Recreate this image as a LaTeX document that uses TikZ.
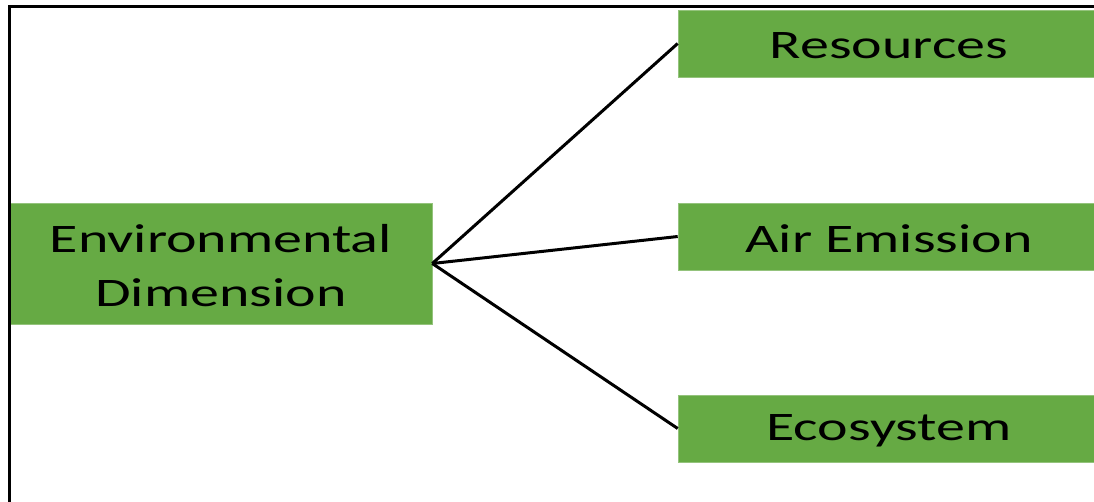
\documentclass[tikz,border=0pt]{standalone}
\usepackage{fontspec}
\setmainfont[FakeStretch=1.43]{Carlito}
\definecolor{boxgreen}{RGB}{102,170,68}
\begin{document}
\begin{tikzpicture}[x=1pt,y=-1pt,
  greenbox/.style={fill=boxgreen, draw=boxgreen!70!white, line width=0.6pt,
    minimum width=422pt, inner sep=0pt},
  boxtext/.style={align=center, inner sep=0pt, yshift=-2.5pt,
    font=\fontsize{40.5}{54}\selectfont, text=black},
  link/.style={line width=3pt, black}]
  \clip (0,0) rectangle (1094,501);
  \fill[white] (0,0) rectangle (1094,501);

  % boxes
  \node[greenbox, minimum height=121pt] (env) at (221,263.5) {};
  \node[greenbox, minimum height=67pt] (res) at (889,43.5) {};
  \node[greenbox, minimum height=67pt] (air) at (889,236.5) {};
  \node[greenbox, minimum height=67pt] (eco) at (889,428.5) {};

  % box labels
  \node[boxtext] (envtext) at (env.center) {Environmental\\Dimension};
  \node[boxtext] (restext) at (res.center) {Resources};
  \node[boxtext] (airtext) at (air.center) {Air Emission};
  \node[boxtext] (ecotext) at (eco.center) {Ecosystem};

  % connectors
  \draw[link] (env.east) -- (res.west);
  \draw[link] (env.east) -- (air.west);
  \draw[link] (env.east) -- (eco.west);

  % outer frame
  \draw[line width=3pt, black] (9.5,520) -- (9.5,6) -- (1110,6);
\end{tikzpicture}
\end{document}
